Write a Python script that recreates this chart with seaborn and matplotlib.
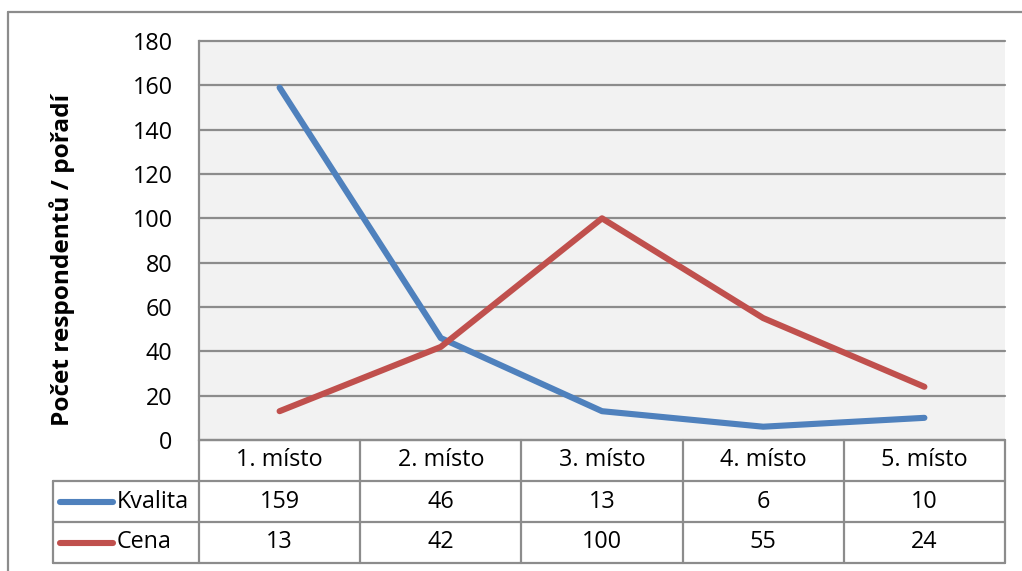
import matplotlib
matplotlib.use("Agg")
import matplotlib.pyplot as plt
import seaborn as sns
import pandas as pd
from matplotlib.lines import Line2D
from matplotlib.transforms import blended_transform_factory

# Data
categories = ["1. místo", "2. místo", "3. místo", "4. místo", "5. místo"]
kvalita = [159, 46, 13, 6, 10]
cena = [13, 42, 100, 55, 24]
series_names = ["Kvalita", "Cena"]
series_values = [kvalita, cena]
series_colors = ["#4F81BD", "#C0504D"]
y_ticks = [0, 20, 40, 60, 80, 100, 120, 140, 160, 180]
y_label = "Počet respondentů / pořadí"

sns.set_theme(style="white")
plt.rcParams["font.family"] = ["Open Sans", "DejaVu Sans"]

W, H, DPI = 1022, 571, 100
FS = 16.8
fig = plt.figure(figsize=(W / DPI, H / DPI), dpi=DPI)
fig.patch.set_facecolor("white")

# plot area in pixel terms
L, R, T, B = 199, 1005, 41, 440
ax = fig.add_axes([L / W, (H - B) / H, (R - L) / W, (B - T) / H])

rows = []
for name, vals in zip(series_names, series_values):
    for i, (cat, v) in enumerate(zip(categories, vals)):
        rows.append({"pos": i, "category": cat, "series": name, "value": v})
df = pd.DataFrame(rows)

grid_col = "#8C8C8C"
ax.set_facecolor("#F2F2F2")
sns.lineplot(data=df, x="pos", y="value", hue="series", hue_order=series_names,
             palette=series_colors, linewidth=4.4, legend=False, ax=ax,
             solid_capstyle="round", solid_joinstyle="round", zorder=3)

ax.set_xlim(-0.5, len(categories) - 0.5)
ax.set_ylim(y_ticks[0], y_ticks[-1])
ax.set_yticks(y_ticks)
ax.set_yticklabels([str(t) for t in y_ticks])
ax.set_xticks([])
ax.set_xlabel("")
ax.set_ylabel("")
ax.tick_params(axis="y", length=0, pad=19, labelsize=FS, labelcolor="black")
ax.yaxis.grid(True, color=grid_col, linewidth=1.6)
for gl in ax.get_ygridlines():
    gl.set_clip_on(False)
for s in ["top", "right", "bottom"]:
    ax.spines[s].set_visible(False)
ax.spines["left"].set_color(grid_col)
ax.spines["left"].set_linewidth(1.6)

fig.text(62 / W, 1 - 260 / H, y_label, rotation=90, ha="center", va="center",
         fontsize=17.6, fontweight="bold", color="black")

# data table under the plot
bt = blended_transform_factory(ax.transData, ax.transAxes)
def ay(py):
    return (B - py) / (B - T)
def axx(px):
    return (px - L) / (R - L)

row_edges = [440, 481, 522, 563]
n = len(categories)
tab_kw = dict(color=grid_col, linewidth=1.6, clip_on=False)

# horizontal rules
ax.add_line(Line2D([axx(L), axx(R)], [ay(row_edges[0])] * 2, transform=ax.transAxes, **tab_kw))
for py in row_edges[1:]:
    ax.add_line(Line2D([axx(53), axx(R)], [ay(py)] * 2, transform=ax.transAxes, **tab_kw))
# vertical rules
ax.add_line(Line2D([axx(53)] * 2, [ay(row_edges[1]), ay(row_edges[3])], transform=ax.transAxes, **tab_kw))
for k in range(n + 1):
    xb = k - 0.5
    ax.add_line(Line2D([xb, xb], [ay(row_edges[0]), ay(row_edges[3])], transform=bt, **tab_kw))

# header labels
hy = ay((row_edges[0] + row_edges[1]) / 2)
for i, cat in enumerate(categories):
    ax.text(i, hy, cat, transform=bt, ha="center", va="center", fontsize=FS,
            color="black", clip_on=False)

# series rows
for r, (name, vals, col) in enumerate(zip(series_names, series_values, series_colors)):
    cy = ay((row_edges[r + 1] + row_edges[r + 2]) / 2)
    ax.add_line(Line2D([axx(60), axx(113)], [cy, cy], transform=ax.transAxes,
                       color=col, linewidth=4.4, solid_capstyle="round", clip_on=False))
    ax.text(axx(117), cy, name, transform=ax.transAxes, ha="left", va="center",
            fontsize=FS, color="black", clip_on=False)
    for i, v in enumerate(vals):
        ax.text(i, cy, str(v), transform=bt, ha="center", va="center",
                fontsize=FS, color="black", clip_on=False)

# outer chart frame
fig.add_artist(Line2D([8 / W, 8 / W], [1 - 12 / H, 0], transform=fig.transFigure,
                      color=grid_col, linewidth=1.6))
fig.add_artist(Line2D([8 / W, 1], [1 - 12 / H, 1 - 12 / H], transform=fig.transFigure,
                      color=grid_col, linewidth=1.6))

fig.savefig("out.png", dpi=DPI, facecolor="white")
